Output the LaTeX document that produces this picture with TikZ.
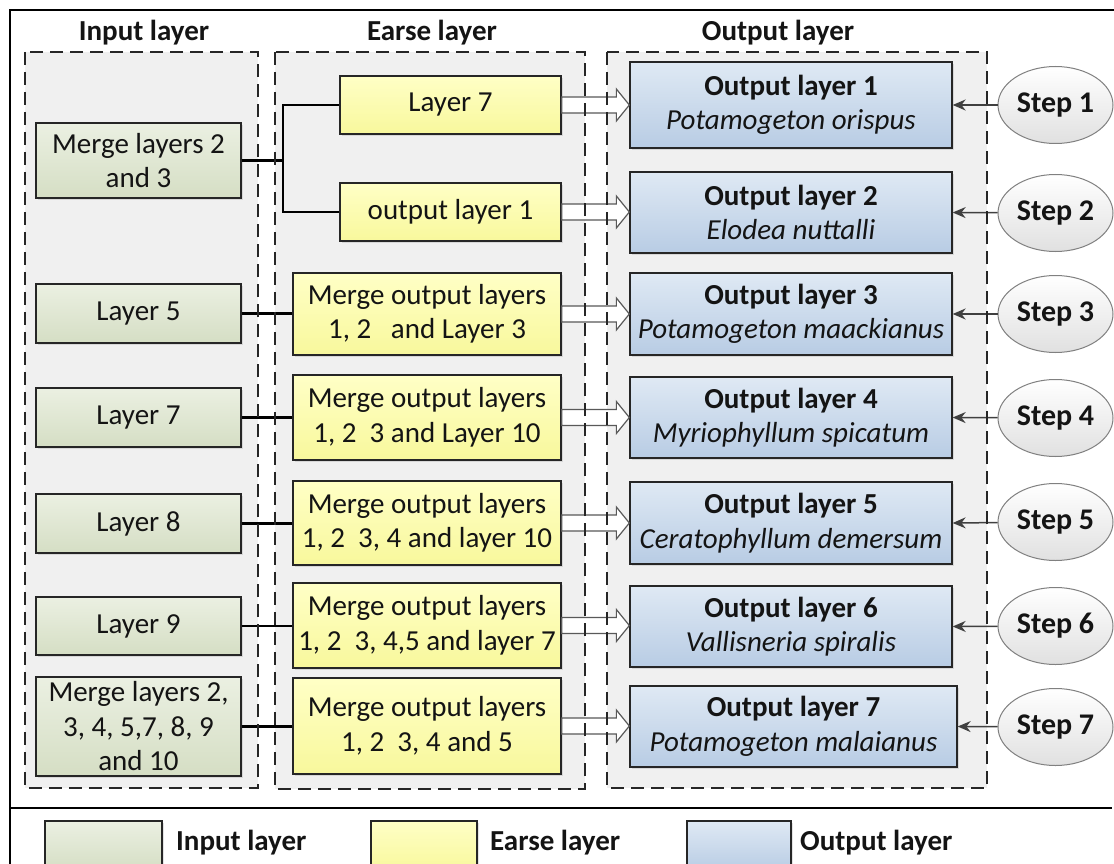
\documentclass[tikz,border=0pt]{standalone}
\usepackage{fontspec}
\setmainfont{Carlito}
\usetikzlibrary{calc,shadows,arrows.meta,shapes.geometric}

\definecolor{grpfill}{HTML}{F0F0F0}
\definecolor{inTop}{HTML}{EBF0E2}
\definecolor{inBot}{HTML}{D5DEC4}
\definecolor{erTop}{HTML}{FFFFC6}
\definecolor{erBot}{HTML}{F8F89C}
\definecolor{outTop}{HTML}{DFE9F4}
\definecolor{outBot}{HTML}{B8CCE4}
\definecolor{txt}{HTML}{141414}

\tikzset{
  box/.style={draw=black!85, line width=1.3pt, align=center, inner sep=0pt,
    text=txt, font=\fontsize{29}{34.5}\selectfont,
    drop shadow={shadow xshift=2pt, shadow yshift=-2pt, opacity=0.22}},
  inbox/.style={box, top color=inTop, bottom color=inBot},
  erbox/.style={box, top color=erTop, bottom color=erBot},
  outbox/.style={box, top color=outTop, bottom color=outBot},
  grpback/.style={fill=grpfill},
  grpline/.style={draw=black!85, dash pattern=on 13pt off 7pt, line width=1.5pt},
  stepnode/.style={ellipse, draw=black!50, line width=1pt, top color=white,
    bottom color=black!12, minimum width=115pt, minimum height=77pt,
    inner sep=0pt, text=txt, font=\fontsize{30}{34}\selectfont\bfseries},
  title/.style={font=\fontsize{29}{32}\selectfont\bfseries, text=txt, inner sep=0pt},
  link/.style={line width=2.5pt, black},
  steparrow/.style={draw=black!75, line width=1.5pt, -{Stealth[length=13pt,width=11pt]}},
  hollow/.style={draw=black!65, fill=white, line width=1.2pt, line join=miter},
}

% wide hollow arrow from the east side of #1 to the west side of #2
\newcommand\hollowarrow[2]{%
  \draw[hollow] let \p1=(#1.east), \p2=(#2.west) in
    (\x1,\y1+8pt) -- (\x2-13pt,\y1+8pt) -- (\x2-13pt,\y1+16pt) -- (\x2,\y1)
    -- (\x2-13pt,\y1-16pt) -- (\x2-13pt,\y1-8pt) -- (\x1,\y1-8pt) -- cycle;}

\begin{document}
\begin{tikzpicture}[x=1pt,y=-1pt]
\useasboundingbox (0,0) rectangle (1114,864);
\clip (0,0) rectangle (1114,864);
\fill[white] (0,0) rectangle (1114,864);

% outer frame and legend separator
\draw[line width=1.5pt] (10,880) -- (10,10) -- (1120,10);
\draw[line width=1.8pt] (10,808) -- (1112,808);

% group backgrounds
\fill[grpback] (25,52) rectangle (258,788);
\fill[grpback] (275,52) rectangle (585,789);
\fill[grpback] (607,52) rectangle (987,788);

% column titles
\node[title] (tin)  at (144,33) {Input layer};
\node[title] (ter)  at (432,33) {Earse layer};
\node[title] (tout) at (778,33) {Output layer};

% input layer
\node[inbox, minimum width=205pt, minimum height=75pt] (in1) at (138.5,160.5) {Merge layers 2\\and 3};
\node[inbox, minimum width=205pt, minimum height=59pt] (in2) at (138.5,313.5) {Layer 5};
\node[inbox, minimum width=205pt, minimum height=59pt] (in3) at (138.5,417.5) {Layer 7};
\node[inbox, minimum width=205pt, minimum height=59pt] (in4) at (138.5,523.5) {Layer 8};
\node[inbox, minimum width=205pt, minimum height=58pt] (in5) at (138.5,626) {Layer 9};
\node[inbox, minimum width=205pt, minimum height=99pt] (in6) at (138.5,726.5) {Merge layers 2,\\3, 4, 5,7, 8, 9\\and 10};

% earse layer
\node[erbox, minimum width=221pt, minimum height=58pt] (e1) at (450.5,105) {Layer 7};
\node[erbox, minimum width=221pt, minimum height=58pt] (e2) at (450.5,212) {output layer 1};
\node[erbox, minimum width=268pt, minimum height=82pt] (e3) at (427,314) {Merge output layers\\1, 2\ \ \ and Layer 3};
\node[erbox, minimum width=268pt, minimum height=85pt] (e4) at (427,417.5) {Merge output layers\\1, 2\ \ 3 and Layer 10};
\node[erbox, minimum width=268pt, minimum height=84pt] (e5) at (427,523) {Merge output layers\\1, 2\ \ 3, 4 and layer 10};
\node[erbox, minimum width=268pt, minimum height=85pt] (e6) at (427,625.5) {Merge output layers\\1, 2\ \ 3, 4,5 and layer 7};
\node[erbox, minimum width=268pt, minimum height=96pt] (e7) at (427,726) {Merge output layers\\1, 2\ \ 3, 4 and 5};

% output layer
\node[outbox, minimum width=322pt, minimum height=86pt] (o1) at (791,105) {\textbf{Output layer 1}\\\textit{Potamogeton orispus}};
\node[outbox, minimum width=322pt, minimum height=81pt] (o2) at (791,212.5) {\textbf{Output layer 2}\\\textit{Elodea nuttalli}};
\node[outbox, minimum width=322pt, minimum height=82pt] (o3) at (791,314) {\textbf{Output layer 3}\\\textit{Potamogeton maackianus}};
\node[outbox, minimum width=322pt, minimum height=81pt] (o4) at (791,417.5) {\textbf{Output layer 4}\\\textit{Myriophyllum spicatum}};
\node[outbox, minimum width=322pt, minimum height=82pt] (o5) at (791,523) {\textbf{Output layer 5}\\\textit{Ceratophyllum demersum}};
\node[outbox, minimum width=322pt, minimum height=81pt] (o6) at (791,626.5) {\textbf{Output layer 6}\\\textit{Vallisneria spiralis}};
\node[outbox, minimum width=327pt, minimum height=81pt] (o7) at (793.5,726.5) {\textbf{Output layer 7}\\\textit{Potamogeton malaianus}};

% steps
\node[stepnode] (s1) at (1055.5,105) {Step 1};
\node[stepnode] (s2) at (1055.5,213) {Step 2};
\node[stepnode] (s3) at (1055.5,314) {Step 3};
\node[stepnode] (s4) at (1055.5,418) {Step 4};
\node[stepnode] (s5) at (1055.5,522) {Step 5};
\node[stepnode] (s6) at (1055.5,626) {Step 6};
\node[stepnode] (s7) at (1055.5,727) {Step 7};

% input -> earse links
\coordinate (fork) at (283,160.5);
\draw[link] (in1.east) -- (fork);
\draw[link] (e1.west) -| (fork) |- (e2.west);
\draw[link] (in2.east) -- (e3.west |- in2.east);
\draw[link] (in3.east) -- (e4.west |- in3.east);
\draw[link] (in4.east) -- (e5.west |- in4.east);
\draw[link] (in5.east) -- (e6.west |- in5.east);
\draw[link] (in6.east) -- (e7.west |- in6.east);

% earse -> output arrows
\hollowarrow{e1}{o1}
\hollowarrow{e2}{o2}
\hollowarrow{e3}{o3}
\hollowarrow{e4}{o4}
\hollowarrow{e5}{o5}
\hollowarrow{e6}{o6}
\hollowarrow{e7}{o7}

% step -> output arrows
\foreach \i in {1,...,7} \draw[steparrow] (s\i) -- (o\i.east);

% dashed group borders
\draw[grpline] (25,52) rectangle (258,788);
\draw[grpline] (275,52) rectangle (585,789);
\draw[grpline] (607,52) rectangle (987,788);

% legend
\node[inbox, minimum width=117pt, minimum height=50pt] (lg1) at (103.5,846) {};
\node[title, anchor=west] (lt1) at (176,843) {Input layer};
\node[erbox, minimum width=106pt, minimum height=50pt] (lg2) at (424,846) {};
\node[title, anchor=west] (lt2) at (490,843) {Earse layer};
\node[outbox, minimum width=104pt, minimum height=50pt] (lg3) at (739,846) {};
\node[title, anchor=west] (lt3) at (800,843) {Output layer};
\end{tikzpicture}
\end{document}
